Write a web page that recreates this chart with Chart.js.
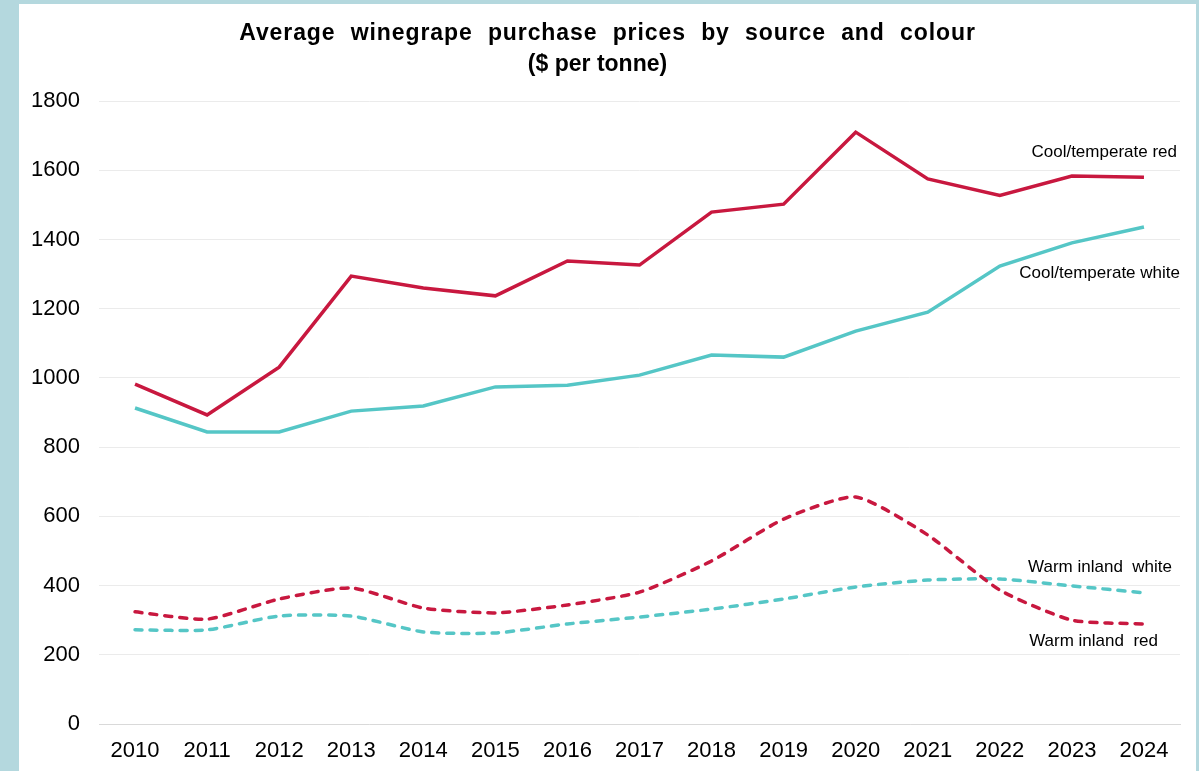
<!DOCTYPE html>
<html>
<head>
<meta charset="utf-8">
<script src="https://cdn.jsdelivr.net/npm/chart.js@4.4.1/dist/chart.umd.min.js"></script>
<style>
    html, body { margin: 0; padding: 0; background: #b4d8de; }
    #frame {
        position: absolute;
        left: 19px;
        top: 4px;
        width: 1177px;
        height: 767px;
        background: #ffffff;
    }
</style>
</head>
<body>
<div id="frame"><canvas id="priceChart"></canvas></div>
<script>
const years = ['2010', '2011', '2012', '2013', '2014', '2015', '2016', '2017', '2018', '2019', '2020', '2021', '2022', '2023', '2024'];

const coolRed = [982, 893, 1031, 1294, 1260, 1237, 1338, 1326, 1479, 1502, 1710, 1575, 1527, 1583, 1580];
const coolWhite = [913, 844, 844, 904, 919, 974, 979, 1008, 1066, 1060, 1135, 1190, 1323, 1390, 1436];
const warmRed = [324, 303, 361, 393, 335, 321, 344, 381, 471, 592, 656, 546, 387, 300, 289];
const warmWhite = [272, 272, 312, 312, 266, 263, 289, 309, 332, 361, 396, 416, 419, 399, 379];

const yTicks = [0, 200, 400, 600, 800, 1000, 1200, 1400, 1600, 1800];

const titleLines = ['Average winegrape purchase prices by source and colour', '($ per tonne)'];

const RED = '#c8183f';
const TEAL = '#55c6c6';
const FONT = '"Liberation Sans", Arial, sans-serif';

// series labels drawn beside the last point of each line
const seriesLabels = [
    { text: 'Cool/temperate red', dx: 33, dy: -25 },
    { text: 'Cool/temperate white', dx: 36, dy: 46 },
    { text: 'Warm inland  red', dx: 14, dy: 17 },
    { text: 'Warm inland  white', dx: 28, dy: -26 }
];

const endLabels = {
    id: 'endLabels',
    afterDatasetsDraw(chart) {
        const ctx = chart.ctx;
        ctx.save();
        ctx.font = '17px ' + FONT;
        ctx.fillStyle = '#000';
        ctx.textAlign = 'right';
        ctx.textBaseline = 'middle';
        chart.data.datasets.forEach((ds, i) => {
            const meta = chart.getDatasetMeta(i);
            const last = meta.data[meta.data.length - 1];
            const lab = seriesLabels[i];
            ctx.fillText(lab.text, last.x + lab.dx, last.y + lab.dy);
        });
        ctx.restore();
    }
};

// two line title, first line spaced out like the original
const spacedTitle = {
    id: 'spacedTitle',
    afterDraw(chart) {
        const ctx = chart.ctx;
        const cx = chart.width / 2;
        ctx.save();
        ctx.font = 'bold 23px ' + FONT;
        ctx.fillStyle = '#000';
        ctx.textAlign = 'center';
        ctx.textBaseline = 'middle';
        ctx.letterSpacing = '0.9px';
        ctx.wordSpacing = '8px';
        ctx.fillText(titleLines[0], cx, 30);
        ctx.letterSpacing = '0px';
        ctx.wordSpacing = '0px';
        ctx.fillText(titleLines[1], cx - 10, 61);
        ctx.restore();
    }
};

Chart.defaults.font.family = FONT;
Chart.defaults.color = '#000';

new Chart(document.getElementById('priceChart').getContext('2d'), {
    type: 'line',
    data: {
        labels: years,
        datasets: [
            { label: 'Cool/temperate red', data: coolRed, borderColor: RED, borderWidth: 3.5, tension: 0 },
            { label: 'Cool/temperate white', data: coolWhite, borderColor: TEAL, borderWidth: 3.5, tension: 0 },
            { label: 'Warm inland red', data: warmRed, borderColor: RED, borderWidth: 3.5, borderDash: [7, 8], borderCapStyle: 'round', tension: 0.2 },
            { label: 'Warm inland white', data: warmWhite, borderColor: TEAL, borderWidth: 3.5, borderDash: [7, 8], borderCapStyle: 'round', tension: 0.2 }
        ]
    },
    options: {
        responsive: true,
        maintainAspectRatio: false,
        animation: false,
        elements: { point: { radius: 0 } },
        layout: { padding: { left: 0, right: 16, top: 97, bottom: 0 } },
        plugins: {
            legend: { display: false },
            tooltip: { enabled: false },
            title: { display: false }
        },
        scales: {
            x: {
                offset: true,
                afterFit(scale) {
                    scale.height = 47;
                },
                grid: { display: false, drawTicks: false },
                border: { display: true, color: '#d9d9d9', width: 1 },
                ticks: { font: { size: 22 }, padding: 14, maxRotation: 0 }
            },
            y: {
                min: 0,
                max: 1800,
                afterBuildTicks(scale) {
                    scale.ticks = yTicks.map(v => ({ value: v }));
                },
                afterFit(scale) {
                    scale.width = 80;
                },
                grid: { color: '#ebebeb', drawTicks: false },
                border: { display: false },
                ticks: { font: { size: 22 }, padding: 19, callback: v => String(v) }
            }
        }
    },
    plugins: [endLabels, spacedTitle]
});
</script>
</body>
</html>
